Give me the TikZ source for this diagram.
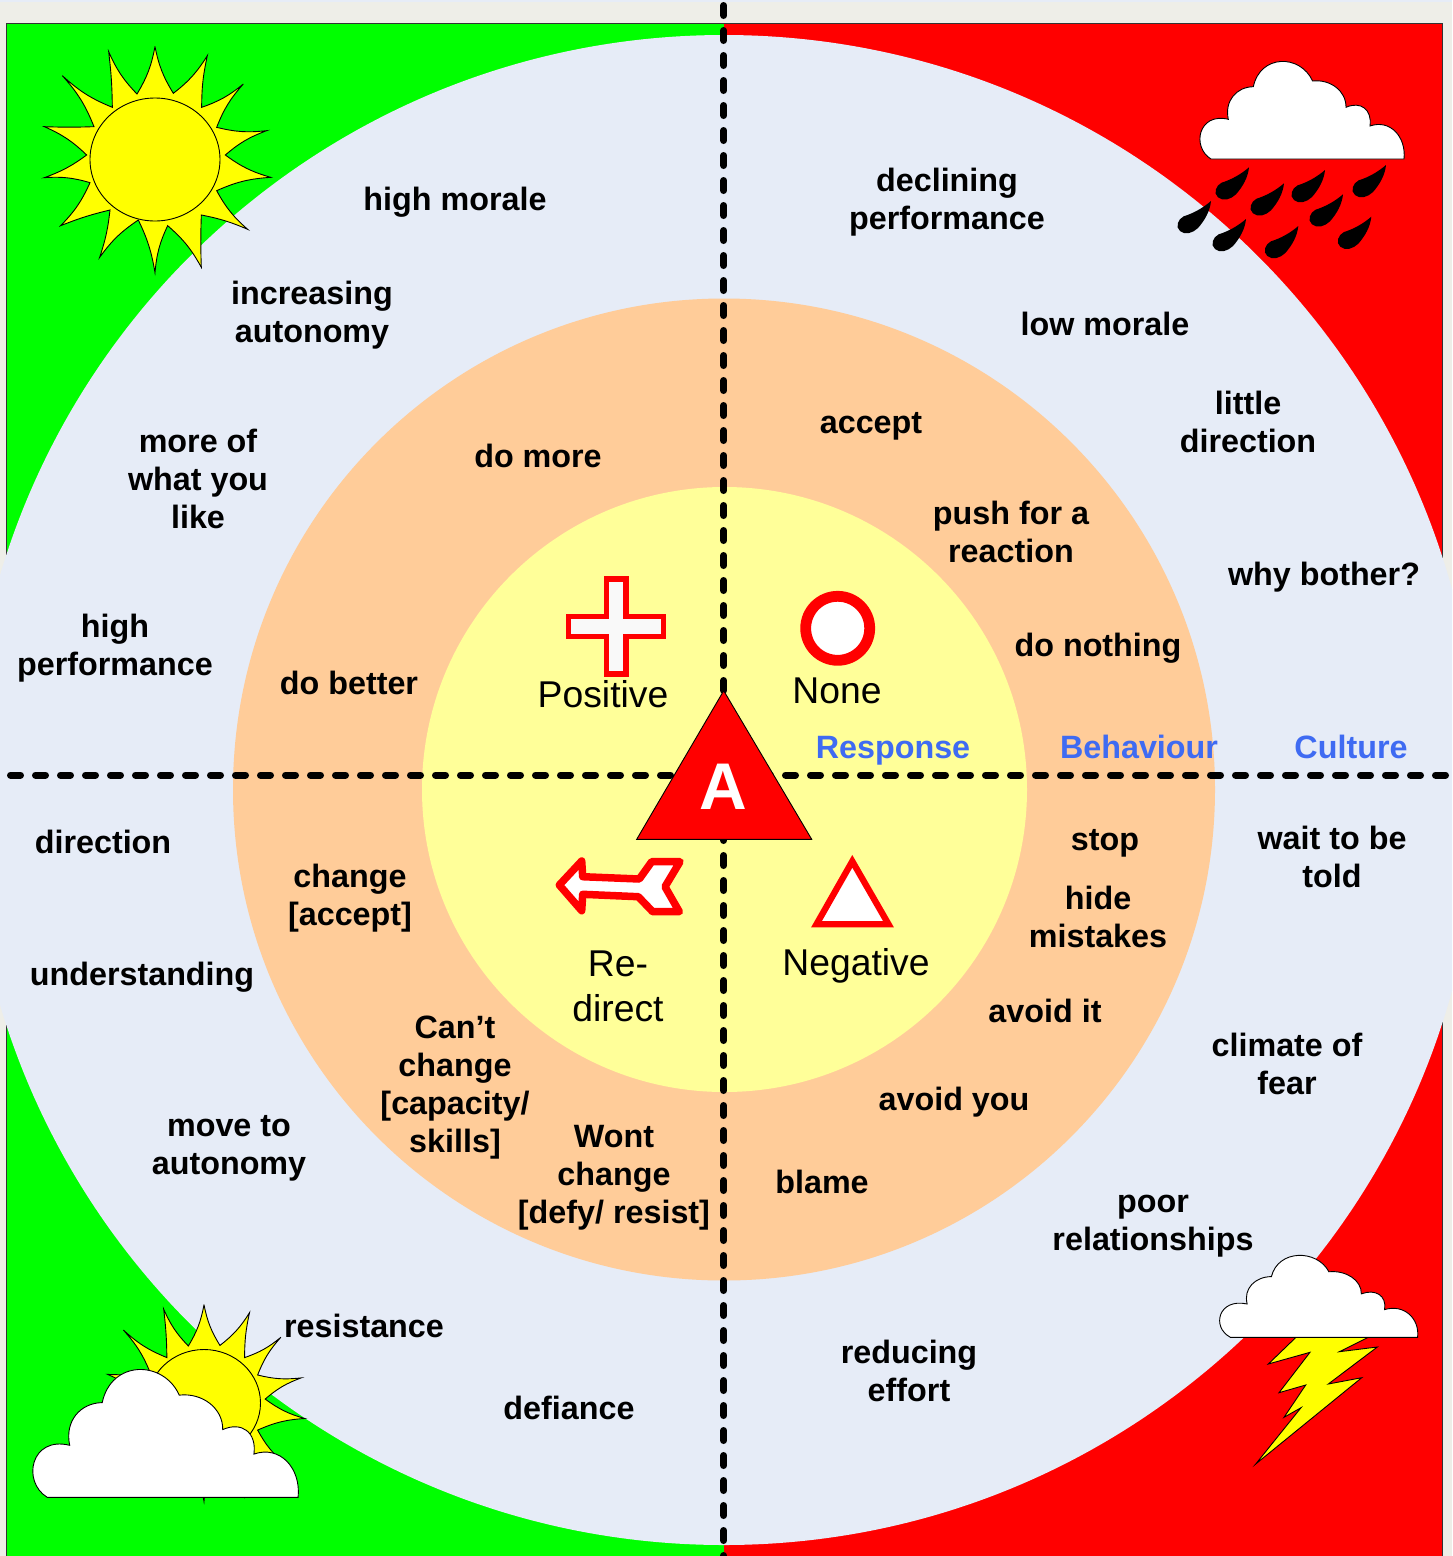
\documentclass[tikz,border=0pt]{standalone}
\usepackage{fontspec}
\setmainfont{Liberation Sans}
\definecolor{ringblue}{HTML}{E6ECF7}
\definecolor{ringorange}{HTML}{FFCC99}
\definecolor{ringyellow}{HTML}{FFFF99}
\definecolor{framegray}{HTML}{EEEEE8}
\definecolor{labelblue}{HTML}{3F6BF2}
\definecolor{symwhite}{HTML}{F9F9F9}
\definecolor{sunyellow}{HTML}{FFFF00}
\newcommand{\st}{\strut}
\newcommand{\sunshape}{(465,140) to[bend right=10] (520,280) to[bend right=10] (622,167) to[bend right=6] (605,322) to[bend right=10] (730,252) to[bend right=10] (650,382) to[bend right=10] (800,392) to[bend right=10] (676,465) to[bend right=10] (812,532) to[bend right=10] (650,572) to[bend right=10] (743,688) to[bend right=6] (604,645) to[bend right=2] (604,802) to[bend right=10] (503,677) to[bend right=10] (465,818) to[bend right=8] (415,660) to[bend right=10] (299,772) to[bend right=6] (330,630) to[bend right=4] (182,677) to[bend right=10] (270,548) to[bend right=10] (133,533) to[bend right=8] (260,465) to[bend right=10] (133,380) to[bend right=2] (282,380) to[bend right=10] (187,227) to[bend right=10] (337,322) to[bend right=3] (326,155) to[bend right=10] (411,282) to[bend right=10] cycle}
\newcommand{\cloudshape}{(10.7,0) .. controls (-9,-12) and (-2,-47) .. (28,-39.7) .. controls (24,-58) and (36,-72) .. (53,-72.3) .. controls (60,-105) and (100,-105) .. (112.3,-78) .. controls (130,-80) and (146,-68) .. (145.7,-51.7) .. controls (160,-58) and (172,-50) .. (169.7,-33) .. controls (190,-40) and (206,-22) .. (203.7,0) -- cycle}
\newcommand{\dropshape}{(0,0) .. controls (-8,7) and (-18,12.5) .. (-27.3,15.3) .. controls (-33,18) and (-36,26) .. (-31,30) .. controls (-26,34.5) and (-18,32) .. (-13,27) .. controls (-6,19) and (-1,10) .. (0,0) -- cycle}
\tikzset{
  bodytext/.style={inner sep=0pt,align=center,font=\bfseries\fontsize{32.3}{38}\selectfont,text=black,yshift=-4pt},
  axislabel/.style={inner sep=0pt,align=center,font=\bfseries\fontsize{32.3}{38}\selectfont,text=labelblue,yshift=-4pt},
  kindtext/.style={inner sep=0pt,align=center,font=\fontsize{37.3}{45}\selectfont,text=black,yshift=-4pt},
  axisline/.style={line width=7pt,line cap=round,dash pattern=on 10pt off 15pt,black},
  symbol/.style={draw=red,fill=white},
  thinblack/.style={draw=black,line width=0.9pt},
  drop/.style={fill=black,draw=none}
}
\begin{document}
\begin{tikzpicture}[x=1pt,y=-1pt]
\useasboundingbox (0,0) rectangle (1452,1556);
\clip (0,0) rectangle (1452,1556);
% frame and quadrants
\fill[framegray] (0,0) rectangle (1452,1556);
\fill[ringblue] (0,0) rectangle (1452,2);
\fill[green] (6,23) rectangle (724,1556);
\fill[red] (724,23) rectangle (1442,1556);
\draw[black!80,line width=0.9pt] (6,1556) -- (6,23) -- (1442,23) -- (1442,1556);
% rings
\fill[ringblue] (724,790) circle[radius=755];
\fill[ringorange] (724,789.5) circle[radius=491];
\fill[ringyellow] (724.5,789.5) circle[radius=302.5];
% sun
\begin{scope}[scale=1/3]
  \filldraw[fill=sunyellow,thinblack] \sunshape;
\end{scope}
\filldraw[fill=sunyellow,thinblack] (155,159.5) ellipse[x radius=65,y radius=61.5];
% rain cloud and drops
\begin{scope}[shift={(1200.3,159)}]
  \filldraw[fill=white,thinblack] \cloudshape;
\end{scope}
\foreach \dx/\dy in {1249/167.3,1325/170,1386/165,1284/183.3,1343/194.3,1211/201,1246/219,1298.3/226,1371.3/216.7}{
  \begin{scope}[shift={(\dx,\dy)}]
    \fill[drop] \dropshape;
  \end{scope}
}
% bolt and storm cloud
\filldraw[fill=sunyellow,thinblack,line join=miter] (1296,1337.3) -- (1268.3,1364) -- (1310,1352.3) -- (1279,1392.7) -- (1305.7,1385) -- (1284,1417.3) -- (1301,1407.7) -- (1255.7,1464) -- (1361.7,1377.7) -- (1328.3,1384) -- (1377.3,1347) -- (1339.3,1351.7) -- (1368.3,1337.3) -- cycle;
\begin{scope}[shift={(1220,1337.3)},xscale=0.97,yscale=0.84]
  \filldraw[fill=white,thinblack] \cloudshape;
\end{scope}
% partly cloudy
\begin{scope}[shift={(69.15,1264.2)},scale=0.29]
  \filldraw[fill=sunyellow,thinblack] \sunshape;
\end{scope}
\filldraw[fill=sunyellow,thinblack] (204,1403) ellipse[x radius=56.5,y radius=53.5];
\begin{scope}[shift={(33.3,1497.3)},xscale=1.3,yscale=1.31]
  \filldraw[fill=white,thinblack] \cloudshape;
\end{scope}
% axes
\coordinate (vtop) at (723.7,5.5);
\coordinate (vbot) at (723.7,1556);
\coordinate (hleft) at (10.5,775);
\coordinate (hright) at (1447,775);
\draw[axisline] (vtop) -- (vbot);
\draw[axisline] (hleft) -- (hright);
% central triangle
\filldraw[fill=red,thinblack,line join=miter] (723.7,690.7) -- (811.7,839.3) -- (636.7,839.3) -- cycle;
\node[inner sep=0pt,text=white,font=\bfseries\fontsize{66}{70}\selectfont] (tA) at (723,787) {A};
% symbols
\filldraw[draw=red,fill=symwhite,line width=5.5pt,line join=miter] (606.7,578.8) -- (626,578.8) -- (626,616.7) -- (663.6,616.7) -- (663.6,636.3) -- (626,636.3) -- (626,674) -- (606.7,674) -- (606.7,636.3) -- (568.7,636.3) -- (568.7,616.7) -- (606.7,616.7) -- cycle;
\filldraw[symbol,line width=10.8pt] (837.7,628.3) circle[radius=32];
\filldraw[symbol,line width=6.3pt,line join=miter] (852.3,861.3) -- (888.5,924.2) -- (816.5,924.2) -- cycle;
\filldraw[symbol,line width=7.5pt,line join=round] (559.3,885) -- (581.7,861) -- (582.7,876.7) -- (639.3,879) -- (651.7,861.7) -- (680,861.7) -- (665,886.7) -- (679.3,911.7) -- (652.7,911.7) -- (638.3,896.7) -- (582.7,894.3) -- (581.7,910.7) -- cycle;
% kinds of response
\node[kindtext] (positive) at (603,694) {\st Positive};
\node[kindtext] (none) at (837,690) {\st None};
\node[kindtext] (redirect) at (618,986) {\st Re-\\\st direct};
\node[kindtext] (negative) at (856,962) {\st Negative};
% axis labels
\node[axislabel] (response) at (893,747) {\st Response};
\node[axislabel] (behaviour) at (1139,747) {\st Behaviour};
\node[axislabel] (culture) at (1351,747) {\st Culture};
% texts
\node[bodytext] (t1) at (455,199) {\st high morale};
\node[bodytext] (t2) at (312,312) {\st increasing\\\st autonomy};
\node[bodytext] (t3) at (198,479) {\st more of\\\st what you\\\st like};
\node[bodytext] (t4) at (115,645) {\st high\\\st performance};
\node[bodytext] (t5) at (538,456) {\st do more};
\node[bodytext] (t6) at (349,683) {\st do better};
\node[bodytext] (t7) at (947,199) {\st declining\\\st performance};
\node[bodytext] (t8) at (1105,324) {\st low morale};
\node[bodytext] (t9) at (871,422) {\st accept};
\node[bodytext] (t10) at (1248,422) {\st little\\\st direction};
\node[bodytext] (t11) at (1011,532) {\st push for a\\\st reaction};
\node[bodytext] (t12) at (1324,574) {\st why bother?};
\node[bodytext] (t13) at (1098,645) {\st do nothing};
\node[bodytext] (t14) at (1105,839) {\st stop};
\node[bodytext] (t15) at (1332,857) {\st wait to be\\\st told};
\node[bodytext] (t16) at (103,842) {\st direction};
\node[bodytext] (t17) at (350,895) {\st change\\\st [accept]};
\node[bodytext] (t18) at (1098,917) {\st hide\\\st mistakes};
\node[bodytext] (t19) at (142,974) {\st understanding};
\node[bodytext] (t20) at (1045,1011) {\st avoid it};
\node[bodytext] (t21) at (1287,1064) {\st climate of\\\st fear};
\node[bodytext] (t22) at (455,1084) {\st Can’t\\\st change\\\st [capacity/\\\st skills]};
\node[bodytext] (t23) at (954,1099) {\st avoid you};
\node[bodytext] (t24) at (229,1144) {\st move to\\\st autonomy};
\node[bodytext] (t25) at (614,1174) {\st Wont\\\st change\\\st [defy/ resist]};
\node[bodytext] (t26) at (822,1182) {\st blame};
\node[bodytext] (t27) at (1153,1220) {\st poor\\\st relationships};
\node[bodytext] (t28) at (364,1326) {\st resistance};
\node[bodytext] (t29) at (909,1371) {\st reducing\\\st effort};
\node[bodytext] (t30) at (569,1408) {\st defiance};
\end{tikzpicture}
\end{document}
